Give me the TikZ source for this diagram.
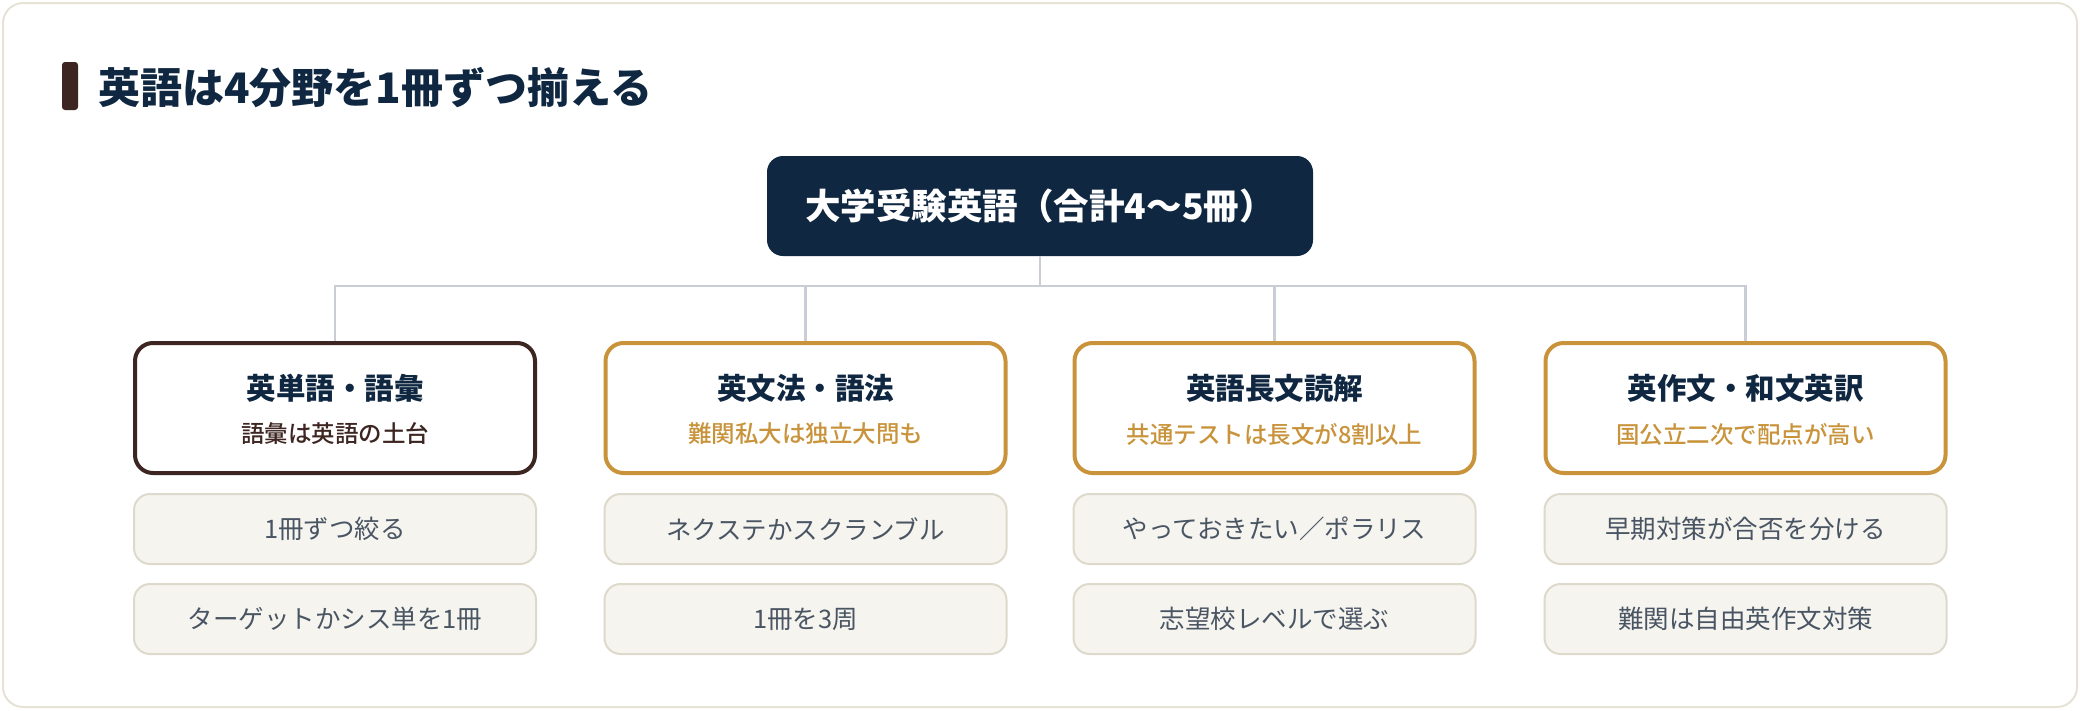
\documentclass[tikz,border=0pt]{standalone}
\usepackage{fontspec}
\setmainfont{Noto Sans CJK JP}
\newfontfamily\jp{Noto Sans CJK JP}
\newfontfamily\jpmed{Noto Sans CJK JP Medium}
\definecolor{navy}{HTML}{0F2740}
\definecolor{brownc}{HTML}{3D2621}
\definecolor{goldc}{HTML}{C8933A}
\definecolor{linkc}{HTML}{C9CED6}
\definecolor{itemfill}{HTML}{F5F4EF}
\definecolor{itemline}{HTML}{DDD9CB}
\definecolor{cardline}{HTML}{E6E3D6}
\definecolor{slate}{HTML}{4A5563}
\begin{document}
\begin{tikzpicture}[x=1pt,y=-1pt,
  cardbox/.style={draw=cardline,line width=2pt,fill=white,rounded corners=20pt},
  topbox/.style={fill=navy,rounded corners=16pt,minimum width=546pt,minimum height=100pt,inner sep=0pt,
    text=white,font=\jp\bfseries\fontsize{35.5}{40}\selectfont},
  catbox/.style={draw=#1,line width=4pt,fill=white,rounded corners=18pt,minimum width=400pt,minimum height=130pt,inner sep=0pt},
  cattitle/.style={inner sep=0pt,text=navy,font=\jp\bfseries\fontsize{29.5}{34}\selectfont},
  catsub/.style={inner sep=0pt,text=#1,font=\jpmed\fontsize{23.5}{28}\selectfont},
  itembox/.style={draw=itemline,line width=2pt,fill=itemfill,rounded corners=16pt,minimum width=402pt,minimum height=70pt,inner sep=0pt,
    text=slate,font=\jp\fontsize{25.5}{30}\selectfont},
  link/.style={draw=linkc,line width=2.8pt}
]
\useasboundingbox (0,0) rectangle (2080,710);
\draw[cardbox] (3,3) rectangle (2077,707);
% title
\fill[brownc,rounded corners=3pt] (62,62) rectangle (78,110);
\node[anchor=west,inner sep=0pt,text=navy,font=\jp\bfseries\fontsize{42}{48}\selectfont] (title) at (98,88) {英語は4分野を1冊ずつ揃える};
% top node
\node[topbox] (top) at (1040,206) {大学受験英語（合計4〜5冊）};
\coordinate (j) at (1040,286);
% categories
\node[catbox=brownc] (c1) at (335,408) {};
\node[catbox=goldc] (c2) at (805.5,408) {};
\node[catbox=goldc] (c3) at (1274.5,408) {};
\node[catbox=goldc] (c4) at (1745.5,408) {};
% connectors
\draw[link] (top.south) -- (j);
\draw[link] (c1.north) |- (j) -| (c4.north);
\draw[link] (c2.north) -- (c2.north |- j);
\draw[link] (c3.north) -- (c3.north |- j);
% category texts
\node[cattitle] (t1) at ([yshift=20pt]c1.center) {英単語・語彙};
\node[catsub=brownc] (s1) at ([yshift=-26pt]c1.center) {語彙は英語の土台};
\node[cattitle] (t2) at ([yshift=20pt]c2.center) {英文法・語法};
\node[catsub=goldc] (s2) at ([yshift=-26pt]c2.center) {難関私大は独立大問も};
\node[cattitle] (t3) at ([yshift=20pt]c3.center) {英語長文読解};
\node[catsub=goldc] (s3) at ([yshift=-26pt]c3.center) {共通テストは長文が8割以上};
\node[cattitle] (t4) at ([yshift=20pt]c4.center) {英作文・和文英訳};
\node[catsub=goldc] (s4) at ([yshift=-26pt]c4.center) {国公立二次で配点が高い};
% items
\node[itembox] (i11) at (335,529) {1冊ずつ絞る};
\node[itembox] (i12) at (335,619) {ターゲットかシス単を1冊};
\node[itembox] (i21) at (805.5,529) {ネクステかスクランブル};
\node[itembox] (i22) at (805.5,619) {1冊を3周};
\node[itembox] (i31) at (1274.5,529) {やっておきたい／ポラリス};
\node[itembox] (i32) at (1274.5,619) {志望校レベルで選ぶ};
\node[itembox] (i41) at (1745.5,529) {早期対策が合否を分ける};
\node[itembox] (i42) at (1745.5,619) {難関は自由英作文対策};
\end{tikzpicture}
\end{document}
